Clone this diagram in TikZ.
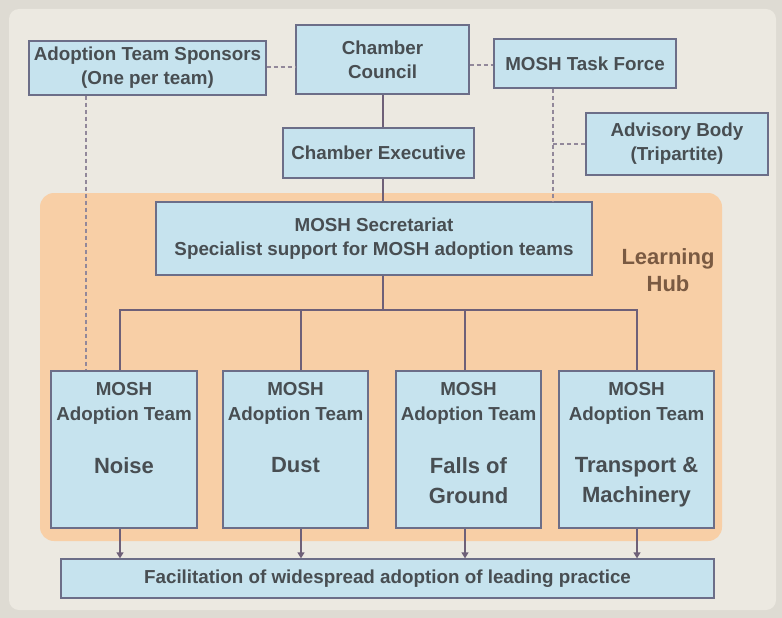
\documentclass[tikz,border=0pt]{standalone}
\usepackage{fontspec}
\setmainfont{Liberation Sans}
\usetikzlibrary{arrows.meta,positioning}
\definecolor{bgout}{HTML}{DEDBD3}
\definecolor{bgin}{HTML}{ECE9E1}
\definecolor{hub}{HTML}{F8CFA6}
\definecolor{boxfill}{HTML}{C6E3EE}
\definecolor{boxline}{HTML}{6C6E88}
\definecolor{conn}{HTML}{6E6078}
\definecolor{txt}{HTML}{484E52}
\definecolor{hubtxt}{HTML}{7A5A42}
\tikzset{
  x=1pt,y=-1pt,
  box/.style={draw=boxline,line width=1.3pt,fill=boxfill,rectangle,inner sep=0pt,
    text=txt,font=\fontsize{18.8}{24}\selectfont\bfseries,align=center},
  lbl/.style={text=txt,font=\fontsize{18.8}{25}\selectfont\bfseries,align=center,inner sep=0pt},
  topic/.style={text=txt,font=\fontsize{22}{30}\selectfont\bfseries,align=center,inner sep=0pt},
  solidline/.style={draw=conn,line width=2.2pt},
  dashline/.style={draw=conn!75,line width=1.2pt,dash pattern=on 4pt off 3pt},
  arr/.style={draw=conn,line width=1.3pt,-{Triangle[width=7pt,length=6pt]}},
}
\newcommand{\bx}[6]{% name, x1,y1,x2,y2, text
  \node[box,minimum width={#4-#2},minimum height={#5-#3}] (#1) at ({(#2+#4)/2},{(#3+#5)/2}) {#6};}
\begin{document}
\begin{tikzpicture}
\useasboundingbox (0,0) rectangle (782,618);
\fill[bgout] (0,0) rectangle (782,618);
\fill[bgin,rounded corners=10pt] (9,9) rectangle (776,610);
\fill[hub,rounded corners=14pt] (40,193) rectangle (722,541);

\bx{sponsors}{29}{41}{266}{95}{Adoption Team Sponsors\\(One per team)}
\bx{council}{296}{25}{469}{94}{Chamber\\Council}
\bx{taskforce}{494}{39}{676}{88}{MOSH Task Force}
\bx{advisory}{586}{113}{768}{175}{Advisory Body\\(Tripartite)}
\bx{exec}{283}{128}{474}{178}{Chamber Executive}
\bx{secr}{156}{202}{592}{275}{MOSH Secretariat\\Specialist support for MOSH adoption teams}
\bx{noise}{51}{371}{197}{528}{}
\bx{dust}{223}{371}{368}{528}{}
\bx{falls}{396}{371}{541}{528}{}
\bx{transport}{559}{371}{714}{528}{}
\bx{facil}{61}{559}{714}{598}{Facilitation of widespread adoption of leading practice}

\node[text=hubtxt,font=\fontsize{22}{27}\selectfont\bfseries,align=center] (hubl) at (668,270) {Learning\\Hub};

\foreach \t/\w in {noise/Noise,dust/Dust,falls/{Falls of\\Ground},transport/{Transport \&\\Machinery}}{
  \node[lbl,anchor=north] (\t-h) at ([yshift=-12pt]\t.north) {MOSH\\Adoption Team};
  \node[topic,anchor=north] (\t-w) at ([yshift=-87pt]\t.north) {\w};
}

% solid hierarchy
\coordinate (cx) at (383,0);
\coordinate (bus) at (383,310);
\draw[solidline] (council.south -| cx) -- (exec.north -| cx);
\draw[solidline] (exec.south -| cx) -- (secr.north -| cx);
\draw[solidline] (secr.south -| cx) -- (bus);
\coordinate (d1) at (120,0);
\coordinate (d2) at (301,0);
\coordinate (d3) at (465,0);
\coordinate (d4) at (637,0);
\draw[solidline] (noise.north -| d1) |- (bus) -| (transport.north -| d4);
\draw[solidline] (dust.north -| d2) -- (bus -| d2);
\draw[solidline] (falls.north -| d3) -- (bus -| d3);

% dashed relations
\draw[dashline] (sponsors.east |- 0,67) -- (council.west |- 0,67);
\draw[dashline] (council.east |- 0,65) -- (taskforce.west |- 0,65);
\draw[dashline] (sponsors.south -| 86,0) -- (noise.north -| 86,0);
\draw[dashline] (taskforce.south -| 553,0) -- (secr.north -| 553,0);
\coordinate (advj) at (553,144);
\draw[dashline] (advj) -- (advisory.west);

% arrows to facilitation
\draw[arr] (noise.south -| d1) -- (facil.north -| d1);
\draw[arr] (dust.south -| d2) -- (facil.north -| d2);
\draw[arr] (falls.south -| d3) -- (facil.north -| d3);
\draw[arr] (transport.south -| d4) -- (facil.north -| d4);
\end{tikzpicture}
\end{document}
